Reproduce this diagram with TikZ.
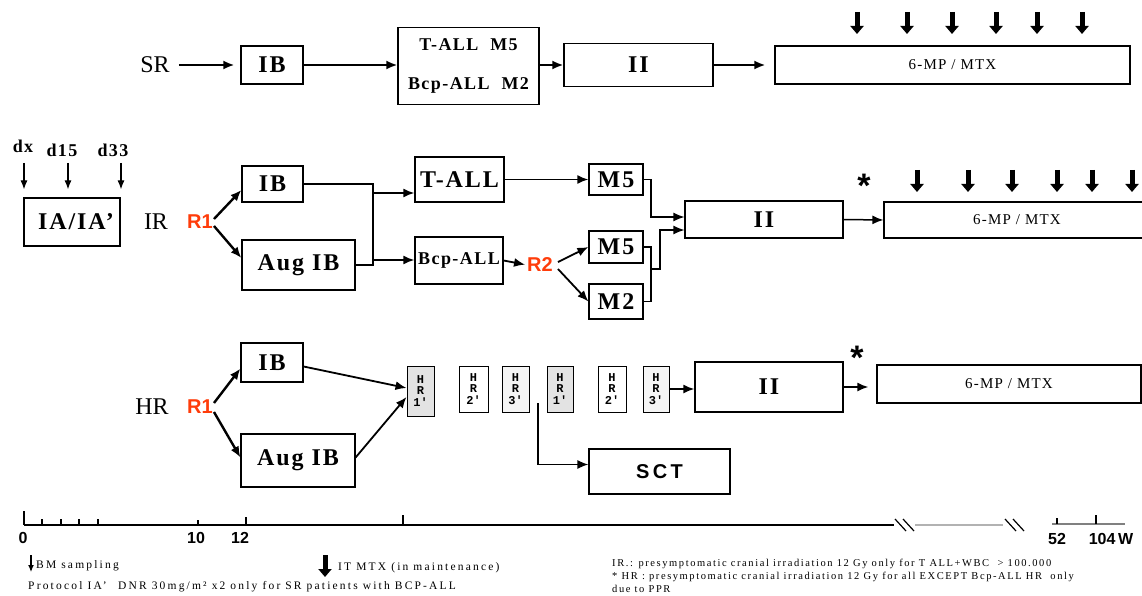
\documentclass[tikz,border=0pt]{standalone}
\usepackage{fontspec}
\setmainfont{Liberation Serif}
\newfontfamily\arialf{Liberation Sans}
\newfontfamily\monof{Liberation Mono}
\newfontfamily\footf[LetterSpace=15]{Liberation Serif}
\newfontfamily\footl[LetterSpace=19]{Liberation Serif}
\newfontfamily\spf[LetterSpace=8]{Liberation Serif}
\usetikzlibrary{arrows.meta,calc}
\definecolor{rcol}{RGB}{255,60,10}
\newcommand\fsz[1]{\fontsize{#1}{#1}\selectfont}
\begin{document}
\begin{tikzpicture}[x=1pt,y=-1pt,
  box/.style={draw, line width=1.2pt, inner sep=0pt, fill=white, align=center},
  lbl/.style={inner sep=0pt},
  big/.style={font=\spf\fsz{24}\bfseries},
  rr/.style={inner sep=0pt, font=\arialf\fsz{20}\bfseries, text=rcol},
  hrb/.style={box, line width=1pt, font=\monof\bfseries\fontsize{12}{11.5}\selectfont},
  sixmp/.style={font=\spf\fsz{15}},
  tip/.style={-{Latex[length=11pt,width=9pt]}},
  arrA/.style={tip, line width=2.4pt},
  arrB/.style={tip, line width=1.8pt},
  thinl/.style={line width=1.2pt},
  darr/.style={line width=1.2pt, -{Latex[length=9pt,width=7pt]}},
  maint/.style={line width=5pt, -{Triangle[length=8pt,width=13pt]}},
  star/.style={inner sep=0pt, font=\arialf\bfseries\fsz{34}},
  tl/.style={inner sep=0pt, font=\arialf\bfseries\fsz{16}},
  ft/.style={inner sep=0pt, anchor=west, font=\footf\fsz{10.5}},
  ftl/.style={inner sep=0pt, anchor=west, font=\footl\fsz{11.5}}
]
\useasboundingbox[fill=white] (0,0) rectangle (1142,596);

% ---------------- SR row ----------------
\node[lbl, font=\fsz{24}] (srL) at (155,65) {SR};
\node[box, big, minimum width=62, minimum height=38] (srIB) at (272,65) {IB};
\node[box, minimum width=141, minimum height=77, font=\spf\bfseries\fontsize{18}{39}\selectfont] (srTB) at (468.5,66) {T-ALL\ \ M5\\Bcp-ALL\ \ M2};
\node[box, big, minimum width=149, minimum height=43] (srII) at (638.5,65) {II};
\node[box, sixmp, minimum width=355, minimum height=38] (sr6) at (952.5,65) {6-MP / MTX};
\draw[arrA, shorten <=9pt, shorten >=6pt] (srL.east) -- (srIB.west);
\draw[arrA] (srIB.east) -- (srIB.east -| srTB.west);
\draw[arrA] (srTB.east |- srII.west) -- (srII.west);
\draw[arrA, shorten >=9pt] (srII.east) -- (sr6.west);
\foreach \x in {857,907,952,996,1037,1082}{
  \coordinate (m) at (\x,12);
  \draw[maint] (m) -- ++(0,22);
}

% ---------------- IR row ----------------
\node[lbl, font=\spf\bfseries\fsz{18}] (dx) at (23,146) {dx};
\node[lbl, font=\spf\bfseries\fsz{18}] (d15) at (62,150) {d15};
\node[lbl, font=\spf\bfseries\fsz{18}] (d33) at (113,150) {d33};
\node[box, big, minimum width=96, minimum height=48] (ia) at (72,222) {\ IA/IA’};
\coordinate (a1) at (24,163);
\coordinate (a2) at (68,163);
\coordinate (a3) at (121,163);
\foreach \a in {a1,a2,a3}{\draw[darr, shorten >=8pt] (\a) -- (\a |- ia.north);}

\node[lbl, font=\fsz{24}] (irL) at (156,222) {IR};
\node[rr] (irR1) at (200,222) {R1};
\node[box, big, minimum width=61, minimum height=36] (irIB) at (272.5,184) {IB};
\node[box, big, minimum width=113, minimum height=50] (irAug) at (298.5,265) {Aug IB};
\node[box, big, minimum width=89, minimum height=45] (tall) at (459.5,179.5) {T-ALL};
\node[box, font=\spf\bfseries\fsz{18}, minimum width=88, minimum height=47] (bcp) at (459,260.5) {Bcp-ALL};
\node[rr] (irR2) at (540,265) {R2};
\node[box, big, minimum width=54, minimum height=31] (m5a) at (616,179.5) {M5};
\node[box, big, minimum width=54, minimum height=32] (m5b) at (616,247) {M5};
\node[box, big, minimum width=54, minimum height=35] (m2) at (616,301.5) {M2};
\node[box, big, minimum width=158, minimum height=37] (irII) at (764,219.5) {II};
\node[box, sixmp, minimum width=266, minimum height=36] (ir6) at (1017,220) {6-MP / MTX};
\node[star] (irS) at (864,186) {*};
\foreach \x in {917,968,1012,1057,1092,1132}{
  \coordinate (m) at (\x,170);
  \draw[maint] (m) -- ++(0,22);
}
\draw[arrA] ($(irR1.east)+(1,-3)$) -- ($(irIB.west)+(0,6)$);
\draw[arrA] ($(irR1.east)+(1,4)$) -- ($(irAug.west)+(0,-7)$);
\coordinate (jx) at (373,0);
\draw[thinl] (irIB.east) -| (jx |- irAug.east) -- (irAug.east);
\coordinate (jt) at (373,193);
\coordinate (jb) at (373,260);
\draw[arrB] (jt) -- (jt -| tall.west);
\draw[arrB] (jb) -- (jb -| bcp.west);
\draw[arrB] (tall.east) -- (m5a.west);
\draw[arrB, shorten >=2pt] (bcp.east) -- (irR2.west);
\draw[arrB] ($(irR2.east)+(5,-3)$) -- (m5b.west);
\draw[arrB] ($(irR2.east)+(5,4)$) -- (m2.west);
\coordinate (k1) at (651,217);
\draw[thinl, tip] (m5a.east) -| (k1) -- (k1 -| irII.west);
\coordinate (k2) at (651,0);
\draw[thinl] (m5b.east) -| (k2 |- m2.east) -- (m2.east);
\coordinate (k3) at (651,269);
\coordinate (k4) at (660,230);
\draw[thinl, tip] (k3) -| (k4) -- (k4 -| irII.west);
\draw[line width=1.5pt, tip] (irII.east) -- (ir6.west);

% ---------------- HR row ----------------
\node[lbl, font=\fsz{24}] (hrL) at (152,407) {HR};
\node[rr] (hrR1) at (200,407) {R1};
\node[box, big, minimum width=62, minimum height=39] (hrIB) at (272,362.5) {IB};
\node[box, big, minimum width=114, minimum height=53] (hrAug) at (298,460.5) {Aug IB};
\node[hrb, fill=gray!22, minimum width=27, minimum height=50] (h1) at (420.5,391) {H\\R\\1'};
\node[hrb, minimum width=29, minimum height=46] (h2) at (473.5,389) {H\\R\\2'};
\node[hrb, fill=gray!8, minimum width=27, minimum height=46] (h3) at (515.5,389) {H\\R\\3'};
\node[hrb, fill=gray!22, minimum width=26, minimum height=46] (h4) at (560,389) {H\\R\\1'};
\node[hrb, minimum width=28, minimum height=46] (h5) at (612,389) {H\\R\\2'};
\node[hrb, fill=gray!8, minimum width=26, minimum height=46] (h6) at (656,389) {H\\R\\3'};
\node[box, big, minimum width=148, minimum height=50] (hrII) at (769,387) {II};
\node[box, sixmp, minimum width=264, minimum height=38] (hr6) at (1009,384) {6-MP / MTX};
\node[box, font=\arialf\bfseries\fsz{20}, minimum width=141, minimum height=45] (sct) at (659.5,471.5) {S\,C\,T};
\node[star] (hrS) at (857,358) {*};
\draw[arrA] ($(hrR1.east)+(1,-4)$) -- ($(hrIB.west)+(0,6)$);
\draw[arrA] ($(hrR1.east)+(1,5)$) -- ($(hrAug.west)+(0,-3)$);
\draw[arrB] ($(hrIB.east)+(0,4)$) -- ($(h1.west)+(0,-3)$);
\draw[arrB] ($(hrAug.east)+(0,-3)$) -- ($(h1.west)+(0,6)$);
\coordinate (s1) at (538,403);
\draw[line width=1.5pt, tip] (s1) |- ($(sct.west)+(0,-7)$);
\draw[arrB] (h6.east) -- (h6.east -| hrII.west);
\draw[arrB, shorten >=8pt] (hrII.east) -- (hrII.east -| hr6.west);

% ---------------- time line ----------------
\draw[line width=1.5pt] (24,525) -- (894,525);
\draw[line width=1.3pt] (24,511) -- (24,525);
\foreach \x in {42,61,79,98}{\draw[line width=1.1pt] (\x,519) -- (\x,525);}
\draw[line width=1.1pt] (198,520) -- (198,525);
\draw[line width=1.1pt] (246,517) -- (246,525);
\draw[line width=1.1pt] (403,515) -- (403,525);
\draw[line width=2.5pt, gray!60] (915,525) -- (1003,525);
\draw[line width=1.2pt] (895,519) -- (906,531) (903,519) -- (914,531);
\draw[line width=1.2pt] (1005,519) -- (1016,531) (1013,519) -- (1024,531);
\draw[line width=1.4pt, gray] (1052,524) -- (1125,524);
\draw[line width=1.1pt] (1057,518) -- (1057,524);
\draw[line width=1.1pt] (1096,515) -- (1096,524);
\node[tl] (t0) at (23,538) {0};
\node[tl] (t10) at (196,538) {10};
\node[tl] (t12) at (240,538) {12};
\node[tl] (t52) at (1057,539) {52};
\node[tl] (t104) at (1111,539) {104\,W};

% ---------------- footnotes ----------------
\coordinate (f1) at (31,555);
\draw[line width=1.2pt, -{Latex[length=7pt,width=6pt]}] (f1) -- ++(0,17);
\node[ftl] (bm) at (36,566) {BM sampling};
\coordinate (f2) at (325,555);
\draw[maint] (f2) -- ++(0,22);
\node[ftl] (itm) at (338,568) {IT MTX (in maintenance)};
\node[ftl] (prot) at (28,587) {Protocol IA’\quad DNR 30mg/m² x2 only for SR patients with BCP-ALL};
\node[ft] (irn) at (612,564) {IR.: presymptomatic cranial irradiation 12 Gy\ only for T ALL+WBC\ \ > 100.000};
\node[ft] (hrn) at (612,577) {* HR : presymptomatic cranial irradiation 12 Gy for all EXCEPT Bcp-ALL HR\ \ only};
\node[ft] (ppr) at (612,589) {due to PPR};
\end{tikzpicture}
\end{document}
